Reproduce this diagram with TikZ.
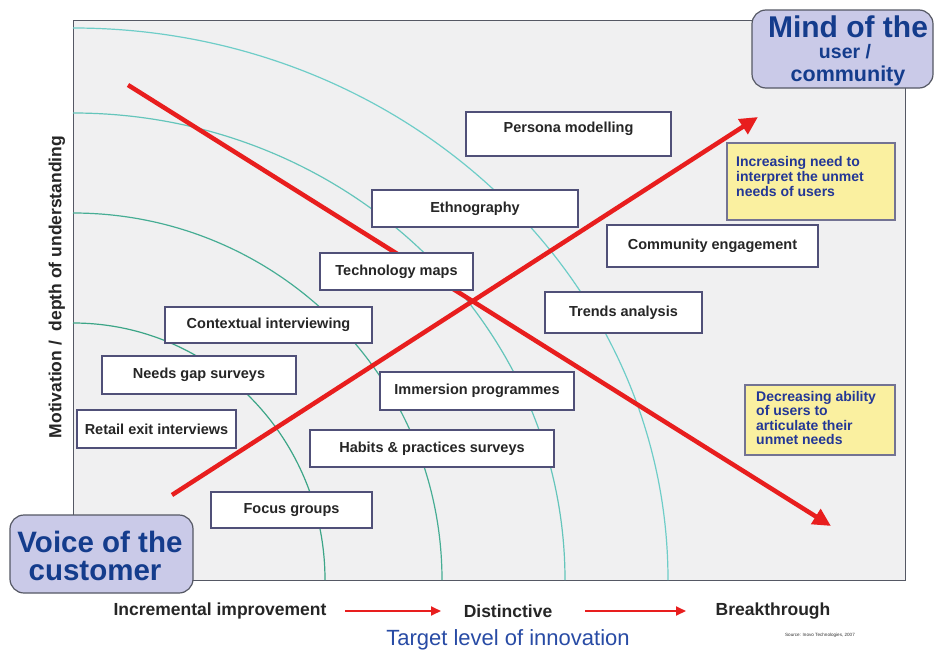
\documentclass[tikz,border=0pt]{standalone}
\usepackage{fontspec}
\setmainfont{Liberation Sans}
\usetikzlibrary{arrows.meta,calc}
\definecolor{panelfill}{RGB}{240,240,241}
\definecolor{panelline}{RGB}{85,88,100}
\definecolor{boxline}{RGB}{80,80,120}
\definecolor{arcgreen}{RGB}{60,165,135}
\definecolor{arccyan}{RGB}{110,205,200}
\definecolor{notefill}{RGB}{250,240,160}
\definecolor{notetext}{RGB}{35,55,150}
\definecolor{capfill}{RGB}{202,202,232}
\definecolor{captext}{RGB}{20,60,140}
\definecolor{arrowred}{RGB}{232,30,30}
\definecolor{axisblue}{RGB}{40,75,165}
\tikzset{
  methodbox/.style={draw=boxline, line width=1.1pt, fill=white, inner sep=0pt,
    font=\fontsize{14.5}{16}\selectfont\bfseries, text=black!85},
  notebox/.style={draw=boxline!80, line width=1.1pt, fill=notefill, inner sep=0pt},
  notetextstyle/.style={inner sep=0pt, anchor=north west, align=left, text=notetext},
  capbox/.style={draw=panelline, line width=1.2pt, fill=capfill, rounded corners=14pt,
    inner sep=0pt},
  capline/.style={inner sep=0pt, text=captext, font=\bfseries},
  bigarrow/.style={draw=arrowred, line width=4.5pt, -{Triangle[length=18pt,width=17pt]}},
  smallarrow/.style={draw=arrowred, line width=1.8pt, -{Triangle[length=10pt,width=9pt]}},
  arcline/.style={line width=1.2pt},
  scalelabel/.style={font=\fontsize{17.5}{19}\selectfont\bfseries, text=black!85}
}
\begin{document}
\begin{tikzpicture}[x=1pt,y=-1pt]
\useasboundingbox (0,0) rectangle (935,653);
\fill[white] (0,0) rectangle (935,653);

% plotting panel
\node[draw=panelline, line width=1.4pt, fill=panelfill, minimum width=832pt, minimum height=560pt,
  inner sep=0pt, anchor=north west] (panel) at (73,20) {};

% concentric bands around the lower left corner
\draw[arcline, draw=arcgreen] (73,323) arc[start angle=90, end angle=0, x radius=252pt, y radius=257pt];
\draw[arcline, draw=arcgreen!80!arccyan] (73,213) arc[start angle=90, end angle=0, x radius=369pt, y radius=367pt];
\draw[arcline, draw=arccyan!80!arcgreen] (73,113) arc[start angle=90, end angle=0, x radius=492pt, y radius=467pt];
\draw[arcline, draw=arccyan] (73,28) arc[start angle=90, end angle=0, x radius=595pt, y radius=552pt];

% the two crossing trends
\coordinate (downstart) at (128,85);
\coordinate (downend) at (831,526);
\coordinate (upstart) at (172,495);
\coordinate (upend) at (758,117);
\draw[bigarrow] (downstart) -- (downend);
\draw[bigarrow] (upstart) -- (upend);

% research methods
\node[methodbox, minimum width=205pt, minimum height=44pt] (persona) at (568.5,134) {};
\node[inner sep=0pt, font=\fontsize{14.5}{16}\selectfont\bfseries, text=black!85] (personatext) at (568.5,129) {Persona modelling};
\node[methodbox, minimum width=206pt, minimum height=37pt] (ethno) at (475,208.5) {Ethnography};
\node[methodbox, minimum width=211pt, minimum height=42pt] (community) at (712.5,246) {Community engagement};
\node[methodbox, minimum width=153pt, minimum height=37pt] (techmaps) at (396.5,271.5) {Technology maps};
\node[methodbox, minimum width=157pt, minimum height=41pt] (trends) at (623.5,312.5) {Trends analysis};
\node[methodbox, minimum width=207pt, minimum height=36pt] (context) at (268.5,325) {Contextual interviewing};
\node[methodbox, minimum width=194pt, minimum height=38pt] (needsgap) at (199,375) {Needs gap surveys};
\node[methodbox, minimum width=194pt, minimum height=38pt] (immersion) at (477,391) {Immersion programmes};
\node[methodbox, minimum width=159pt, minimum height=38pt] (retail) at (156.5,429) {Retail exit interviews};
\node[methodbox, minimum width=244pt, minimum height=37pt] (habits) at (432,448.5) {Habits \& practices surveys};
\node[methodbox, minimum width=161pt, minimum height=36pt] (focus) at (291.5,510) {Focus groups};

% explanatory notes
\node[notebox, minimum width=168pt, minimum height=77pt] (noteup) at (811,181.5) {};
\node[notetextstyle, font=\fontsize{14}{15}\selectfont\bfseries] (noteuptext) at (736,156)
  {Increasing need to\\interpret the unmet\\needs of users};
\node[notebox, minimum width=150pt, minimum height=70pt] (notedown) at (820,420) {};
\node[notetextstyle, font=\fontsize{14}{14.4}\selectfont\bfseries] (notedowntext) at (756,391)
  {Decreasing ability\\of users to\\articulate their\\unmet needs};

% corner captions
\node[capbox, minimum width=181pt, minimum height=78pt] (mind) at (842.5,49) {};
\node[capline, font=\fontsize{30}{30}\selectfont\bfseries] (mind1) at (848,27) {Mind of the};
\node[capline, font=\fontsize{19.5}{20}\selectfont\bfseries] (mind2) at (845,52) {user /};
\node[capline, font=\fontsize{21.5}{22}\selectfont\bfseries] (mind3) at (848,76) {community};
\node[capbox, minimum width=183pt, minimum height=78pt] (voice) at (101.5,554) {};
\node[capline, font=\fontsize{29.5}{30}\selectfont\bfseries] (voice1) at (100,542) {Voice of the};
\node[capline, font=\fontsize{29.5}{30}\selectfont\bfseries] (voice2) at (95,571) {customer};

% vertical axis label
\node[rotate=90, font=\fontsize{17.5}{19}\selectfont\bfseries, text=black!85] (ylabel) at (57,287)
  {Motivation /\ \ depth of understanding};

% horizontal scale
\node[scalelabel] (incr) at (220,611) {Incremental improvement};
\node[scalelabel] (dist) at (508,611) {Distinctive};
\node[scalelabel] (brk) at (773,611) {Breakthrough};
\coordinate (s1) at (345,611);
\coordinate (e1) at (441,611);
\coordinate (s2) at (585,611);
\coordinate (e2) at (686,611);
\draw[smallarrow] (s1) -- (e1);
\draw[smallarrow] (s2) -- (e2);
\node[font=\fontsize{22}{24}\selectfont, text=axisblue] (xlabel) at (508,640) {Target level of innovation};
\node[font=\fontsize{4.6}{6}\selectfont, text=black!80] (source) at (820,635) {Source: Inovo Technologies, 2007};
\end{tikzpicture}
\end{document}
